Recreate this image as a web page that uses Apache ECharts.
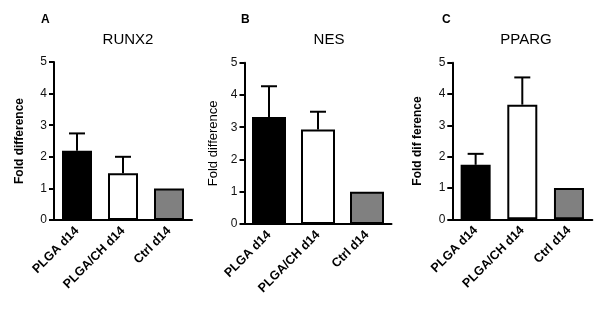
<!DOCTYPE html>
<html>
<head>
<meta charset="utf-8">
<script src="https://cdn.jsdelivr.net/npm/echarts@6/dist/echarts.min.js"></script>
<style>html,body{margin:0;padding:0;background:#fff}#c{width:601px;height:312px}</style>
</head>
<body>
<div id="c"></div>
<script>
// ---- data ----
const categories = ['PLGA d14', 'PLGA/CH d14', 'Ctrl d14'];
const panelLetters = ['A', 'B', 'C'];
const geneNames = ['RUNX2', 'NES', 'PPARG'];
const yTicks = [0, 1, 2, 3, 4, 5];
const runx2Mean = [2.19, 1.48, 1.0];
const runx2Sd = [0.55, 0.52, 0];
const nesMean = [3.32, 2.93, 1.0];
const nesSd = [0.95, 0.55, 0];
const ppargMean = [1.74, 3.66, 1.0];
const ppargSd = [0.35, 0.87, 0];

// ---- layout / style ----
const FONT = 'Liberation Sans, Arial, sans-serif';
const barColors = ['#000000', '#ffffff', '#808080'];
const panels = [
  {mean: runx2Mean, sd: runx2Sd, grid: {left: 54, top: 62, width: 138, height: 158}, barWidth: 30, yName: 'Fold difference', yBold: true, yNameSize: 12, nameGap: 28, titleX: 123, letterX: 36},
  {mean: nesMean, sd: nesSd, grid: {left: 244.5, top: 62.7, width: 147, height: 161.3}, barWidth: 34, yName: 'Fold difference', yBold: false, yNameSize: 13, nameGap: 25, titleX: 324, letterX: 236},
  {mean: ppargMean, sd: ppargSd, grid: {left: 452.3, top: 62.7, width: 140, height: 156.6}, barWidth: 30, yName: 'Fold dif ference', yBold: true, yNameSize: 12, nameGap: 29, titleX: 521, letterX: 437}
];

const option = {
  animation: false,
  backgroundColor: '#fff',
  textStyle: {fontFamily: FONT},
  title: [],
  grid: [], xAxis: [], yAxis: [], series: []
};

panels.forEach((p, i) => {
  option.title.push({text: panelLetters[i], left: p.letterX, top: 9,
    textStyle: {fontFamily: FONT, fontSize: 12, fontWeight: 'bold', color: '#000'}});
  option.title.push({text: geneNames[i], left: p.titleX, top: 27, textAlign: 'center',
    textStyle: {fontFamily: FONT, fontSize: 15, fontWeight: 'normal', color: '#000'}});
  option.grid.push(Object.assign({containLabel: false}, p.grid));
  option.xAxis.push({
    type: 'category', gridIndex: i, data: categories,
    axisLine: {lineStyle: {color: '#000', width: 2}},
    axisTick: {alignWithLabel: true, length: 5, lineStyle: {width: 2, color: '#000'}},
    axisLabel: {rotate: 45, interval: 0, margin: 9, fontFamily: FONT, fontSize: 12.5, fontWeight: 'bold', color: '#000'}
  });
  option.yAxis.push({
    type: 'value', gridIndex: i, min: 0, max: 5, interval: 1,
    name: p.yName, nameLocation: 'middle', nameGap: p.nameGap,
    nameTextStyle: {fontFamily: FONT, fontSize: p.yNameSize, fontWeight: p.yBold ? 'bold' : 'normal', color: '#000'},
    axisLine: {show: true, lineStyle: {color: '#000', width: 2}},
    axisTick: {show: true, length: 5, lineStyle: {width: 2, color: '#000'}},
    axisLabel: {margin: 7, fontFamily: FONT, fontSize: 12, color: '#111',
      formatter: v => yTicks.includes(v) ? String(v) : ''},
    splitLine: {show: false}
  });
  option.series.push({
    type: 'bar', xAxisIndex: i, yAxisIndex: i, barWidth: p.barWidth,
    data: p.mean.map((v, k) => ({value: v, itemStyle: {color: barColors[k], borderColor: '#000', borderWidth: 2}})),
    z: 2
  });
  option.series.push({
    type: 'custom', xAxisIndex: i, yAxisIndex: i, z: 1,
    data: p.mean.map((v, k) => [k, v, v + p.sd[k]]),
    renderItem: (params, api) => {
      const sdv = api.value(2) - api.value(1);
      if (sdv <= 0) return null;
      const base = api.coord([api.value(0), api.value(1)]);
      const top = api.coord([api.value(0), api.value(2)]);
      const hw = 8;
      const st = {stroke: '#000', lineWidth: 2};
      return {type: 'group', children: [
        {type: 'line', shape: {x1: base[0], y1: base[1], x2: top[0], y2: top[1]}, style: st},
        {type: 'line', shape: {x1: top[0] - hw, y1: top[1], x2: top[0] + hw, y2: top[1]}, style: st}
      ]};
    }
  });
});

const chart = echarts.init(document.getElementById('c'), null, {renderer: 'canvas'});
chart.setOption(option);
</script>
</body>
</html>
